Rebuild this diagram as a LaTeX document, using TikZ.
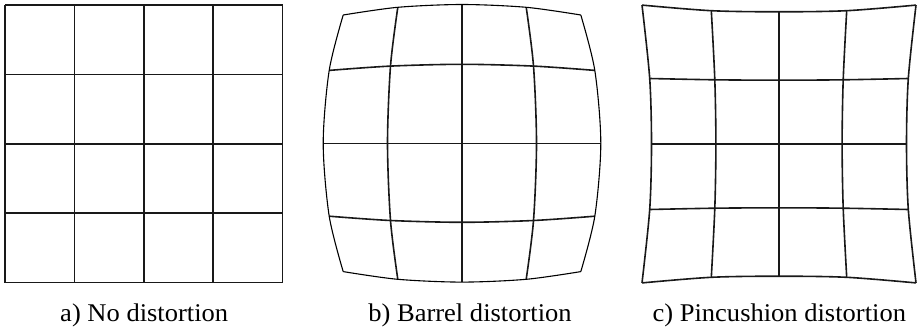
\documentclass[tikz,border=0pt]{standalone}
\usepackage{fontspec}
\setmainfont{Liberation Serif}[FakeStretch=1.04]
\begin{document}
\begin{tikzpicture}[x=1pt,y=-1pt,
  gridline/.style={line width=1.6pt,black!90},
  thinborder/.style={line width=1.1pt,black},
  caption/.style={font=\fontsize{25.5}{30}\selectfont,anchor=base,inner sep=0pt}]
\useasboundingbox (0,0) rectangle (917,329);
% ---------- panel a: undistorted grid ----------
\foreach \i in {0,...,4}{
  \pgfmathsetmacro\p{5+69.4*\i}
  \coordinate (at\i) at (\p,5);
  \coordinate (ab\i) at (\p,283);
  \coordinate (al\i) at (5,\p);
  \coordinate (ar\i) at (282.6,\p);
}
\foreach \i in {0,...,4}{
  \draw[gridline] (at\i) -- (ab\i);
  \draw[gridline] (al\i) -- (ar\i);
}
% ---------- panel b: barrel ----------
\foreach \i in {0,...,4}{\foreach \j in {0,...,4}{
  \pgfmathtruncatemacro\a{abs(\i-2)}
  \pgfmathtruncatemacro\b{abs(\j-2)}
  \pgfmathsetmacro\sx{sign(\i-2)}
  \pgfmathsetmacro\sy{sign(\j-2)}
  \pgfmathsetmacro\dx{{0,0,0,74.5,71.5,64.2,138.8,132.8,118.8}[3*\a+\b]}
  \pgfmathsetmacro\dy{{0,79,138.8,0,77.2,136,0,72.9,128.3}[3*\a+\b]}
  \coordinate (b\i\j) at (462+\sx*\dx,143.3+\sy*\dy);
}}
\foreach \k in {1,2,3}{
  \draw[gridline] plot[smooth] coordinates {(b0\k) (b1\k) (b2\k) (b3\k) (b4\k)};
  \draw[gridline] plot[smooth] coordinates {(b\k0) (b\k1) (b\k2) (b\k3) (b\k4)};
}
\foreach \k in {0,4}{
  \draw[thinborder] plot[smooth] coordinates {(b0\k) (b1\k) (b2\k) (b3\k) (b4\k)};
  \draw[thinborder] plot[smooth] coordinates {(b\k0) (b\k1) (b\k2) (b\k3) (b\k4)};
}
% ---------- panel c: pincushion ----------
\foreach \i in {0,...,4}{\foreach \j in {0,...,4}{
  \pgfmathtruncatemacro\a{abs(\i-2)}
  \pgfmathtruncatemacro\b{abs(\j-2)}
  \pgfmathsetmacro\sx{sign(\i-2)}
  \pgfmathsetmacro\sy{sign(\j-2)}
  \pgfmathsetmacro\dx{{0,0,0,63.1,64.2,67.7,127.5,129.3,137}[3*\a+\b]}
  \pgfmathsetmacro\dy{{0,63.8,132.2,0,64.2,133.3,0,65.5,138.9}[3*\a+\b]}
  \coordinate (c\i\j) at (779+\sx*\dx,144+\sy*\dy);
}}
\foreach \k in {0,...,4}{
  \draw[gridline] plot[smooth] coordinates {(c0\k) (c1\k) (c2\k) (c3\k) (c4\k)};
  \draw[gridline] plot[smooth] coordinates {(c\k0) (c\k1) (c\k2) (c\k3) (c\k4)};
}
% ---------- captions ----------
\node[caption] (la) at (144.2,321) {a) No distortion};
\node[caption] (lb) at (470,321) {b) Barrel distortion};
\node[caption] (lc) at (779.3,321) {c) Pincushion distortion};
\end{tikzpicture}
\end{document}
